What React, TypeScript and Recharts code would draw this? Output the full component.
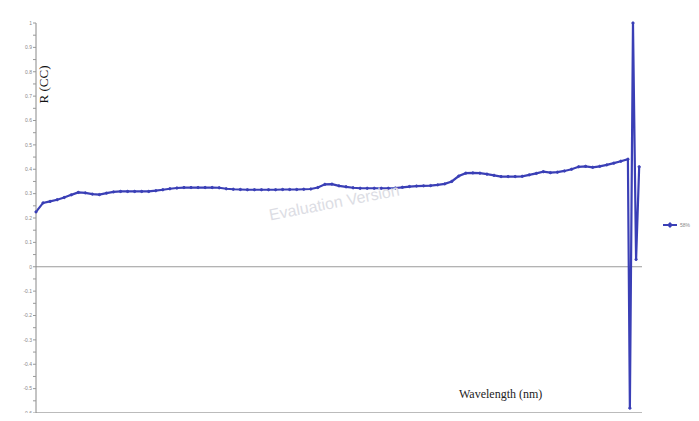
import React from 'react';
import { LineChart, Line, XAxis, YAxis, ReferenceLine } from 'recharts';

// wavelength (nm) for each measured point
const wavelengths = [
  350, 375, 400, 425, 450, 475, 500, 525, 550, 575,
  600, 625, 650, 675, 700, 725, 750, 775, 800, 825,
  850, 875, 900, 925, 950, 975, 1000, 1025, 1050, 1075,
  1100, 1125, 1150, 1175, 1200, 1225, 1250, 1275, 1300, 1325,
  1350, 1375, 1400, 1425, 1450, 1475, 1500, 1525, 1550, 1575,
  1600, 1625, 1650, 1675, 1700, 1725, 1750, 1775, 1800, 1825,
  1850, 1875, 1900, 1925, 1950, 1975, 2000, 2025, 2050, 2075,
  2100, 2125, 2150, 2175, 2200, 2225, 2250, 2275, 2300, 2325,
  2350, 2375, 2400, 2425, 2450,
  2457, 2468, 2479, 2490,
];

// R (CC) for series "58%"
const reflectance = [
  0.225, 0.262, 0.268, 0.275, 0.284, 0.295, 0.305, 0.303, 0.298, 0.296,
  0.302, 0.307, 0.309, 0.309, 0.309, 0.309, 0.309, 0.312, 0.316, 0.32,
  0.323, 0.325, 0.325, 0.325, 0.325, 0.325, 0.324, 0.32, 0.318, 0.317,
  0.316, 0.316, 0.316, 0.316, 0.316, 0.317, 0.317, 0.317, 0.318, 0.319,
  0.325, 0.338, 0.339, 0.332, 0.328, 0.324, 0.322, 0.322, 0.322, 0.322,
  0.322, 0.323, 0.326, 0.329, 0.331, 0.332, 0.333, 0.336, 0.34, 0.35,
  0.372, 0.384, 0.385, 0.384, 0.38, 0.375, 0.37, 0.37, 0.37, 0.371,
  0.377, 0.383, 0.39, 0.386, 0.388, 0.393, 0.4, 0.41, 0.412, 0.408,
  0.412, 0.418, 0.425, 0.433, 0.441,
  -0.58, 1.0, 0.03, 0.41,
];

const xTicks = [
  350, 390, 430, 470, 510, 550, 590, 630, 670, 710,
  750, 790, 830, 870, 910, 950, 990, 1030, 1070, 1110,
  1150, 1190, 1230, 1270, 1310, 1350, 1390, 1430, 1470, 1510,
  1550, 1590, 1630, 1670, 1710, 1750, 1790, 1830, 1870, 1910,
  1950, 1990, 2030, 2070, 2110, 2150, 2190, 2230, 2270, 2310,
  2350, 2390, 2430, 2470,
];

const yTicks = [
  -0.6, -0.55, -0.5, -0.45, -0.4, -0.35, -0.3, -0.25, -0.2, -0.15,
  -0.1, -0.05, 0, 0.05, 0.1, 0.15, 0.2, 0.25, 0.3, 0.35,
  0.4, 0.45, 0.5, 0.55, 0.6, 0.65, 0.7, 0.75, 0.8, 0.85,
  0.9, 0.95, 1,
];

const seriesName = '58%';

const data = wavelengths.map((wl, i) => ({ wl, r: reflectance[i] }));

const LINE = '#3a3fb6';
const serif = '"Liberation Serif", "Times New Roman", serif';
const sans = '"Liberation Sans", Arial, sans-serif';

const formatY = (v: number) => {
  const h = Math.round(v * 100);
  if (h % 10 !== 0) return '';
  return String(h / 100);
};

// tiny wavelength labels squeezed under the axis
const XTick = ({ x, y, payload }: any) => (
  <text x={x} y={y + 3.2} fontSize={4.5} fill="#777" textAnchor="middle" fontFamily={sans}>
    {payload.value}
  </text>
);

const App: React.FC = () => {
  return (
    <div style={{ margin: -8, width: 699, height: 421, overflow: 'hidden', background: '#e8e9eb', position: 'relative' }}>
      <div style={{ position: 'absolute', left: 6, top: 8, width: 693, height: 430, background: '#fff' }}>
        <LineChart width={693} height={425} data={data} margin={{ top: 15, right: 57, left: 0, bottom: 0 }}>
          <XAxis
            dataKey="wl"
            type="number"
            domain={[350, 2500]}
            ticks={xTicks}
            interval={0}
            tick={<XTick />}
            tickSize={2}
            axisLine={{ stroke: '#777' }}
            tickLine={{ stroke: '#888' }}
            height={20}
          />
          <YAxis
            domain={[-0.6, 1]}
            ticks={yTicks}
            interval={0}
            tickFormatter={formatY}
            tick={{ fontSize: 5, fill: '#888', fontFamily: sans }}
            tickSize={3}
            tickMargin={1}
            width={30}
            axisLine={{ stroke: '#888' }}
            tickLine={{ stroke: '#999' }}
          />
          <ReferenceLine y={0} stroke="#9a9a9a" strokeWidth={1} />
          <Line
            type="linear"
            dataKey="r"
            name={seriesName}
            stroke={LINE}
            strokeWidth={2.2}
            dot={{ r: 1.2, fill: LINE, stroke: LINE, strokeWidth: 0.8 }}
            isAnimationActive={false}
          />
        </LineChart>
        <div
          style={{
            position: 'absolute', left: 19, top: 70, fontFamily: serif, fontSize: 13, color: '#111',
            transform: 'rotate(-90deg)', transformOrigin: 'center', whiteSpace: 'nowrap', lineHeight: '13px',
          }}
        >
          R (CC)
        </div>
        <div
          style={{
            position: 'absolute', left: 453, top: 379, fontFamily: serif, fontSize: 12, color: '#222',
            whiteSpace: 'nowrap',
          }}
        >
          Wavelength (nm)
        </div>
        <div
          style={{
            position: 'absolute', left: 262, top: 186, fontFamily: sans, fontSize: 16, color: '#dcdde4',
            transform: 'rotate(-11deg)', whiteSpace: 'nowrap',
          }}
        >
          Evaluation Version
        </div>
        <div style={{ position: 'absolute', left: 657, top: 213, display: 'flex', alignItems: 'center' }}>
          <svg width={14} height={8}>
            <line x1={0} y1={4} x2={14} y2={4} stroke={LINE} strokeWidth={2} />
            <path d="M7 1 L10 4 L7 7 L4 4 Z" fill={LINE} />
          </svg>
          <span style={{ fontFamily: sans, fontSize: 5, color: '#888', marginLeft: 3 }}>{seriesName}</span>
        </div>
      </div>
    </div>
  );
};

export default App;
